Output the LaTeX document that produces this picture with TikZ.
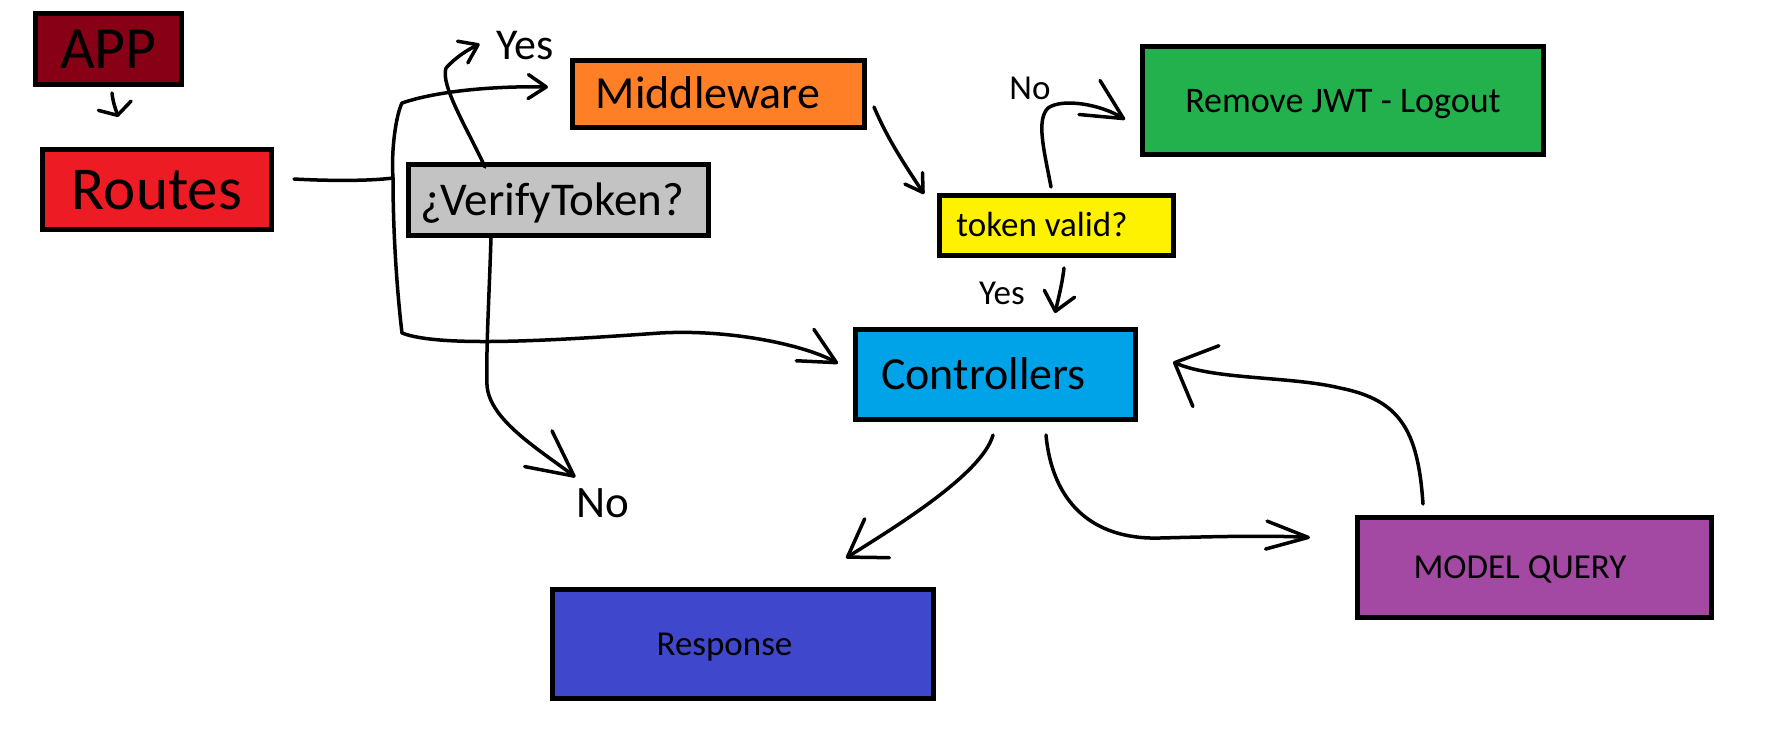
\documentclass[tikz,border=0pt]{standalone}
\usepackage{fontspec}
\setmainfont{Carlito}
\usetikzlibrary{arrows.meta,calc}
\definecolor{cApp}{HTML}{880015}
\definecolor{cRoutes}{HTML}{ED1C24}
\definecolor{cMid}{HTML}{FF7F27}
\definecolor{cVer}{HTML}{C3C3C3}
\definecolor{cTok}{HTML}{FFF200}
\definecolor{cRem}{HTML}{22B14C}
\definecolor{cCtl}{HTML}{00A2E8}
\definecolor{cRes}{HTML}{3F48CC}
\definecolor{cMod}{HTML}{A349A4}
\newcommand{\fs}[1]{\fontsize{#1}{#1}\selectfont}
\begin{document}
\begin{tikzpicture}[x=1pt,y=-1pt,
  box/.style={draw=black,line width=5pt,rectangle,inner sep=0pt,text depth=0pt},
  lbl/.style={inner sep=0pt,text depth=0pt},
  conn/.style={line width=3.5pt,line cap=round,line join=round},
  barb/.style n args={2}{-{Straight Barb[round,length=#1,width=#2]}}
]
\useasboundingbox[fill=white] (0,0) rectangle (1791,748);

% boxes
\node[box,fill=cApp,minimum width=146pt,minimum height=71pt,font=\fs{60},text height=39pt] (app) at (108.5,49) {APP};
\node[box,fill=cRoutes,minimum width=229pt,minimum height=80pt,font=\fs{61},text height=39.6pt] (routes) at (157,189.5) {Routes};
\node[box,fill=cMid,minimum width=292pt,minimum height=67pt,font=\fs{46},text height=29.9pt] (middleware) at (718.5,94) {Middleware\hspace*{21pt}};
\node[box,fill=cVer,minimum width=300pt,minimum height=71pt,font=\fs{47},text height=30.5pt] (verify) at (558.5,200) {¿VerifyToken?\hspace*{12pt}};
\node[box,fill=cTok,minimum width=234pt,minimum height=60pt,font=\fs{35},text height=22.75pt] (token) at (1056.5,225.5) {token valid?\hspace*{29pt}};
\node[box,fill=cRem,minimum width=401pt,minimum height=108pt,font=\fs{36},text height=23.4pt] (remove) at (1343,100.5) {Remove JWT - Logout};
\node[box,fill=cCtl,minimum width=280pt,minimum height=90pt,font=\fs{46},text height=29.9pt] (controllers) at (995.5,374.5) {Controllers\hspace*{24pt}};
\node[box,fill=cRes,minimum width=381pt,minimum height=109pt,font=\fs{35},text height=22.75pt] (response) at (743,644) {Response\hspace*{37pt}};
\node[box,fill=cMod,minimum width=354pt,minimum height=100pt,font=\fs{35},text height=22.75pt] (model) at (1534.5,567.5) {MODEL QUERY\hspace*{29pt}};

% labels
\node[lbl,font=\fs{44},text height=28.6pt] (yes1) at (525,45) {Yes};
\node[lbl,font=\fs{45},text height=29.25pt] (no1) at (603,503) {No};
\node[lbl,font=\fs{35},text height=22.75pt] (no2) at (1030,88) {No};
\node[lbl,font=\fs{35},text height=22.75pt] (yes2) at (1002,293) {Yes};

% helper coordinates
\coordinate (j) at (393,178);
\coordinate (vt) at (402,103);
\coordinate (vb) at (402,333);

% connectors
\draw[conn,barb={10pt}{34pt}] ($(app.south)+(3.5,6)$) .. controls (113,103) and (116,110) .. ($(routes.north)+(-39,-30)$);

\draw[conn] ($(routes.east)+(20,-10.5)$) .. controls (330,181) and (370,181) .. (j);
\draw[conn,barb={18pt}{24pt}] (j) .. controls (391,150) and (396,115) .. (vt) .. controls (440,90) and (500,86) .. ($(middleware.west)+(-22,-7)$);
\draw[conn,barb={36pt}{36pt}] (j) .. controls (393,240) and (398,300) .. (vb) .. controls (440,348) and (560,340) .. (660,333) .. controls (730,329) and (805,345) .. ($(controllers.west)+(-15,-11)$);

\draw[conn,barb={17pt}{24pt}] ($(verify.north west)+(79,5)$) .. controls (468,130) and (440,85) .. (446,68) .. controls (455,58) and (467,50) .. ($(yes1.west)+(-16.5,-1)$);
\draw[conn,barb={45pt}{45pt}] ($(verify.south west)+(85,0)$) .. controls (489,300) and (486,350) .. (487,385) .. controls (489,420) and (540,450) .. ($(no1.north west)+(-1,-11)$);

\draw[conn,barb={17pt}{21pt}] ($(middleware.east)+(7,13)$) .. controls (888,140) and (905,165) .. ($(token.north west)+(-13,1)$);
\draw[conn,barb={40pt}{40pt}] ($(token.north)+(-5.5,-6)$) .. controls (1044,150) and (1036,120) .. (1048,108) .. controls (1062,98) and (1100,104) .. ($(remove.west)+(-15,19)$);
\draw[conn,barb={18pt}{31pt}] ($(token.south)+(7.5,10)$) .. controls (1062,285) and (1058,300) .. ($(controllers.north)+(59.5,-14)$);

\draw[conn,barb={35pt}{46pt}] ($(controllers.south)+(-2.5,13)$) .. controls (982,475) and (890,530) .. ($(response.north)+(103,-29)$);
\draw[conn,barb={42pt}{28pt}] ($(controllers.south)+(50.5,13)$) .. controls (1052,500) and (1090,540) .. (1160,538) .. controls (1200,537) and (1265,535) .. ($(model.west)+(-45,-30)$);
\draw[conn,barb={34pt}{66pt}] ($(model.north)+(-111.5,-11)$) .. controls (1418,430) and (1400,400) .. (1340,388) .. controls (1290,376) and (1215,380) .. ($(controllers.east)+(35,-12.5)$);
\end{tikzpicture}
\end{document}
